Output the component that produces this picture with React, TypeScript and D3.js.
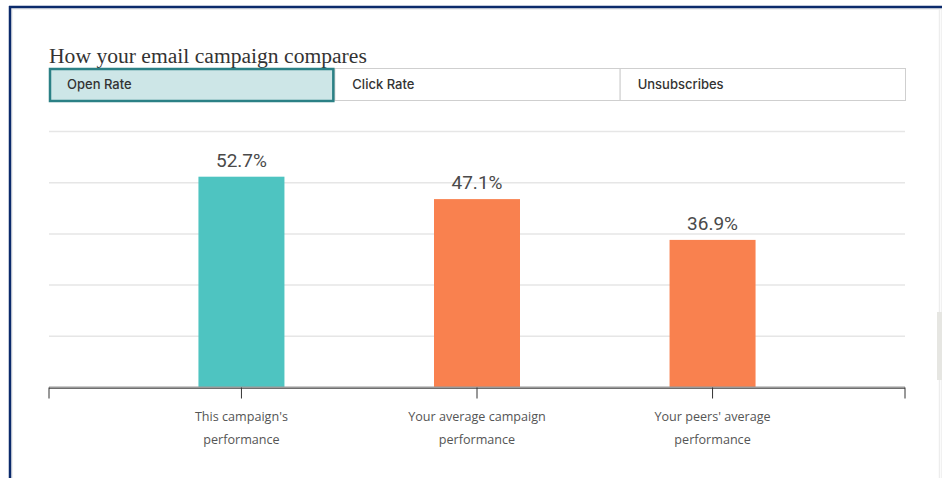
import React from 'react';
import * as d3 from 'd3';

// chart values
const categories = ["This campaign's performance", 'Your average campaign performance', "Your peers' average performance"];
const categoryLines = [["This campaign's", 'performance'], ['Your average campaign', 'performance'], ["Your peers' average", 'performance']];
const values = [52.7, 47.1, 36.9];
const barColors = ['#4ec4c1', '#f9814f', '#f9814f'];
const gridTicks = [0, 12.8, 25.6, 38.4, 51.2, 64];
const tabs = ['Open Rate', 'Click Rate', 'Unsubscribes'];
const activeTab = 0;

const W = 942;
const H = 478;
const plot = { left: 49, right: 905, top: 131.5, bottom: 387.5 };
const sans = '"Open Sans", Roboto, "Liberation Sans", sans-serif';

export default function App() {
  const x = d3.scalePoint<string>()
    .domain(categories)
    .range([plot.left, plot.right])
    .padding(0.817);
  const y = d3.scaleLinear()
    .domain([0, 64])
    .range([plot.bottom, plot.top]);
  const tabScale = d3.scaleBand<string>()
    .domain(tabs)
    .range([plot.left, plot.right]);
  const barW = 86;

  return (
    <svg width={W} height={H} style={{ position: 'absolute', left: 0, top: 0, background: '#fff' }}>
      {/* frame */}
      <rect x={12} y={9} width={W - 12} height={H} fill="#fff" stroke="#ececec" strokeWidth={1.5} />
      <line x1={9} x2={W} y1={7} y2={7} stroke="#0b2a6b" strokeWidth={2.5} />
      <line x1={10} x2={10} y1={6} y2={H} stroke="#0b2a6b" strokeWidth={2.5} />
      <line x1={939.5} x2={939.5} y1={9} y2={H} stroke="#ededed" strokeWidth={1.5} />
      <rect x={937} y={312} width={5} height={68} fill="#e6e6e2" />

      {/* title */}
      <text x={49} y={63} fontFamily='Georgia, "Liberation Serif", serif' fontSize={21.6} fill="#333">
        How your email campaign compares
      </text>

      {/* tabs */}
      {tabs.map((t, i) => {
        const tx = tabScale(t) as number;
        return (
          <g key={t}>
            <rect
              x={tx + 0.5}
              y={68.5}
              width={tabScale.bandwidth()}
              height={32}
              fill={i === activeTab ? '#cde6e7' : '#fff'}
              stroke="#cfcfcf"
              strokeWidth={1}
            />
            <text x={tx + 18} y={89} fontFamily='Inter, "Open Sans", sans-serif' fontSize={13} fontWeight={500} fill="#333">
              {t}
            </text>
          </g>
        );
      })}
      {/* active tab outline drawn last so it sits on top */}
      <rect
        x={(tabScale(tabs[activeTab]) as number) + 1}
        y={69}
        width={tabScale.bandwidth() - 2}
        height={32}
        fill="none"
        stroke="#2b8085"
        strokeWidth={2.5}
      />

      {/* gridlines */}
      {gridTicks.slice(1).map(v => (
        <line key={v} x1={plot.left} x2={plot.right} y1={y(v)} y2={y(v)} stroke="#e6e6e6" strokeWidth={1.5} />
      ))}

      {/* bars */}
      {categories.map((c, i) => {
        const cx = x(c) as number;
        return (
          <g key={c}>
            <rect x={cx - barW / 2} y={y(values[i])} width={barW} height={y(0) - y(values[i])} fill={barColors[i]} />
            <text x={cx} y={y(values[i]) - 10} textAnchor="middle" fontFamily='Roboto, sans-serif' fontSize={19} fill="#4a4a4a">
              {values[i]}%
            </text>
          </g>
        );
      })}

      {/* x axis */}
      <line x1={plot.left} x2={plot.right} y1={y(0)} y2={y(0)} stroke="#9a9a9a" strokeWidth={2} />
      <line x1={plot.left} x2={plot.right} y1={y(0) + 1} y2={y(0) + 1} stroke="#555" strokeWidth={0.8} />
      {[plot.left, ...categories.map(c => x(c) as number), plot.right].map((tx, i) => (
        <line key={i} x1={tx} x2={tx} y1={y(0)} y2={y(0) + 11} stroke="#333" strokeWidth={1} />
      ))}
      {categories.map((c, i) => (
        <text key={c} textAnchor="middle" fontFamily={sans} fontSize={12.6} fill="#555">
          {categoryLines[i].map((ln, j) => (
            <tspan key={j} x={x(c) as number} y={421 + j * 23}>{ln}</tspan>
          ))}
        </text>
      ))}
    </svg>
  );
}
